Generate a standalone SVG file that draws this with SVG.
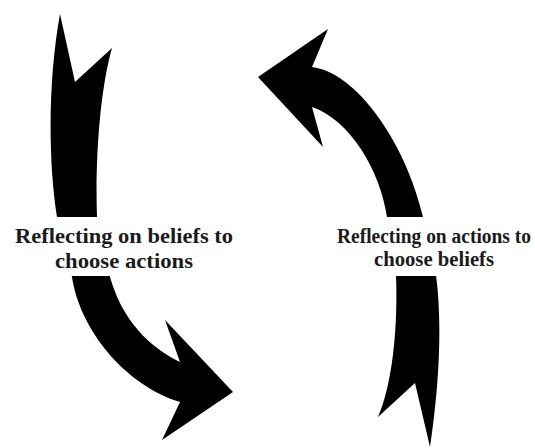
<svg xmlns="http://www.w3.org/2000/svg" width="535" height="448" viewBox="0 0 535 448">
  <style>
    .arrow { fill: #000; stroke: none; }
    .label { font-family: "Liberation Serif", "DejaVu Serif", serif; font-weight: bold; font-size: 22px; fill: #1a1a1a; text-anchor: middle; }
    .label.narrow { font-size: 20px; }
  </style>
  <defs>
    <!-- leaves a white band where the labels sit across the arrows -->
    <clipPath id="labelGap">
      <rect x="0" y="0" width="535" height="217"/>
      <rect x="0" y="276" width="535" height="172"/>
    </clipPath>
  </defs>
  <rect x="0" y="0" width="535" height="448" fill="#fff"/>

  <g id="connectors" clip-path="url(#labelGap)">
    <!-- left arrow: from forked tail at the top, down and round to the head at bottom right -->
    <path id="arrow-beliefs-to-actions" class="arrow"
      d="M60,14 C48,80 48,160 57,217 C61,242 66,260 72,277 C80,330 125,385 180,402 L162,440 L233,392 L165,320 L180,362 C160,352 125,330 110,277 C106,255 99,235 97,217 C95,160 100,90 112,48 L75,82 Z"/>
    <!-- right arrow: from forked tail at the bottom, up and round to the head at top left -->
    <path id="arrow-actions-to-beliefs" class="arrow"
      d="M258,77 L328,29 L312,67 C355,72 405,140 423,217 C428,240 433,255 436,275 C442,320 440,380 430,447 L415,383 L378,417 C392,385 398,330 396,275 C395,250 391,235 387,217 C380,170 350,120 312,107 L323,147 Z"/>
  </g>

  <g id="node-left">
    <text class="label" x="124" y="243" textLength="218" lengthAdjust="spacingAndGlyphs">Reflecting on beliefs to</text>
    <text class="label" x="124" y="268" textLength="138" lengthAdjust="spacingAndGlyphs">choose actions</text>
  </g>
  <g id="node-right">
    <text class="label narrow" x="434" y="243" textLength="194" lengthAdjust="spacingAndGlyphs">Reflecting on actions to</text>
    <text class="label narrow" x="434" y="266" textLength="120" lengthAdjust="spacingAndGlyphs">choose beliefs</text>
  </g>
</svg>
